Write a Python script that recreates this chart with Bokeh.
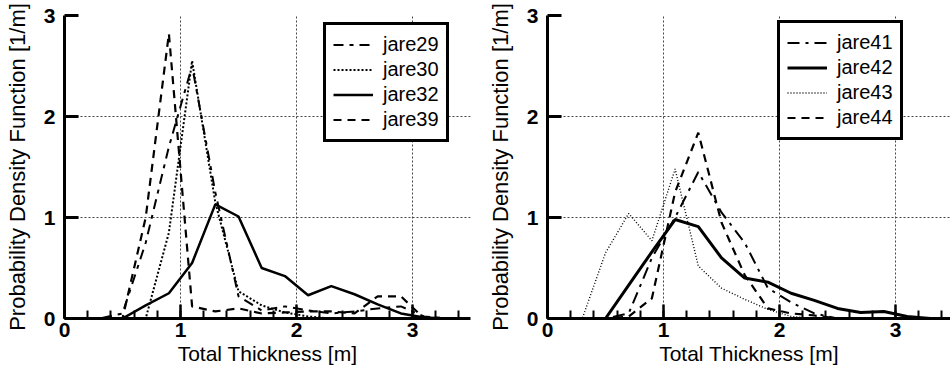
from bokeh.plotting import figure
from bokeh.layouts import row
from bokeh.models import Range1d, SingleIntervalTicker
from bokeh.embed import file_html
from bokeh.resources import INLINE

# Bin centres of thickness histogram [m]
bins = [0.1, 0.3, 0.5, 0.7, 0.9, 1.1, 1.3, 1.5, 1.7, 1.9, 2.1, 2.3, 2.5, 2.7, 2.9, 3.1, 3.3]

# Left panel
jare29 = [0, 0, 0.05, 0.75, 1.70, 2.50, 1.25, 0.22, 0.08, 0.12, 0.08, 0.05, 0.07, 0.10, 0.12, 0.02, 0]
jare30 = [0, 0, 0, 0, 0.85, 2.55, 1.15, 0.27, 0.13, 0.06, 0.02, 0, 0, 0, 0, 0, 0]
jare32 = [0, 0, 0, 0.13, 0.25, 0.55, 1.13, 1.01, 0.50, 0.42, 0.23, 0.32, 0.24, 0.14, 0.05, 0.01, 0]
jare39 = [0, 0, 0, 1.00, 2.82, 0.12, 0.07, 0.10, 0.05, 0.06, 0.07, 0.07, 0.05, 0.22, 0.22, 0, 0]

# Right panel
jare41 = [0, 0, 0, 0.05, 0.60, 1.00, 1.45, 1.05, 0.75, 0.30, 0.16, 0.05, 0, 0, 0, 0, 0]
jare42 = [0, 0, 0, 0.33, 0.66, 0.98, 0.91, 0.60, 0.40, 0.36, 0.25, 0.18, 0.10, 0.06, 0.07, 0.02, 0]
jare43 = [0, 0, 0.65, 1.04, 0.77, 1.48, 0.52, 0.30, 0.19, 0.09, 0.02, 0, 0, 0, 0, 0, 0]
jare44 = [0, 0, 0, 0.02, 0.20, 1.25, 1.84, 0.95, 0.43, 0.10, 0.05, 0.03, 0, 0, 0, 0, 0]

x_label = "Total Thickness [m]"
y_label = "Probability Density Function [1/m]"

FONT = "Liberation Sans"


def make_fig(xend, frame_w, bl, br):
    p = figure(frame_width=frame_w, frame_height=303,
               x_range=Range1d(0, xend), y_range=Range1d(0, 3),
               output_backend="svg", toolbar_location=None,
               min_border_left=bl, min_border_right=br,
               min_border_top=15, min_border_bottom=61)
    p.outline_line_color = None
    p.background_fill_color = "white"
    p.border_fill_color = "white"

    xt = SingleIntervalTicker(interval=1, num_minor_ticks=5)
    yt = SingleIntervalTicker(interval=1, num_minor_ticks=0)
    p.xaxis.ticker = xt
    p.yaxis.ticker = yt
    p.xgrid.ticker = xt
    p.ygrid.ticker = yt
    for g in (p.xgrid, p.ygrid):
        g.grid_line_color = "#444444"
        g.grid_line_dash = "2 2"
        g.grid_line_width = 1

    for ax in (p.xaxis, p.yaxis):
        ax.axis_line_width = 3
        ax.axis_line_color = "black"
        ax.major_tick_out = 0
        ax.minor_tick_out = 0
        ax.major_label_text_font = FONT
        ax.major_label_text_font_size = "21px"
        ax.major_label_text_font_style = "bold"
        ax.major_label_text_color = "black"
        ax.axis_label_text_font = FONT
        ax.axis_label_text_font_style = "normal"
        ax.axis_label_text_color = "black"

    p.xaxis.major_tick_in = 14
    p.xaxis.minor_tick_in = 8
    p.xaxis.major_tick_line_width = 2.5
    p.xaxis.minor_tick_line_width = 2
    p.xaxis.major_label_standoff = 4
    p.xaxis.axis_label_standoff = 2
    p.xaxis.axis_label_text_font_size = "21px"
    p.xaxis.axis_label = x_label

    p.yaxis.major_tick_in = 14
    p.yaxis.major_tick_line_width = 3
    p.yaxis.minor_tick_line_color = None
    p.yaxis.major_label_standoff = 9
    p.yaxis.axis_label_standoff = 11
    p.yaxis.axis_label_text_font_size = "22px"
    p.yaxis.axis_label = y_label
    return p


def style_legend(p, loc):
    lg = p.legend[0]
    lg.location = loc
    lg.label_text_font = FONT
    lg.label_text_font_size = "20px"
    lg.label_text_color = "black"
    lg.glyph_width = 40
    lg.glyph_height = 25
    lg.label_height = 25
    lg.label_standoff = 10
    lg.padding = 7
    lg.spacing = 0
    lg.margin = 0
    lg.border_line_color = "#000000"
    lg.border_line_alpha = 1.0
    lg.border_line_width = 3
    lg.background_fill_color = "white"
    lg.background_fill_alpha = 1.0


p1 = make_fig(3.5, 406, 64, 5)
p1.line(bins, jare29, line_color="black", line_width=2, line_dash="10 6 4 6", legend_label="jare29")
p1.line(bins, jare30, line_color="black", line_width=2, line_dash="2 2", legend_label="jare30")
p1.line(bins, jare32, line_color="black", line_width=2.5, legend_label="jare32")
p1.line(bins, jare39, line_color="black", line_width=2.2, line_dash="8 6", legend_label="jare39")
style_legend(p1, (259, 176))

p2 = make_fig(403 / 116, 403, 72, 0)
p2.line(bins, jare41, line_color="black", line_width=2, line_dash="12 6 3 6", legend_label="jare41")
p2.line(bins, jare42, line_color="black", line_width=3, legend_label="jare42")
p2.line(bins, jare43, line_color="black", line_width=1.4, line_dash="1 2", legend_label="jare43")
p2.line(bins, jare44, line_color="black", line_width=2.2, line_dash="8 6", legend_label="jare44")
style_legend(p2, (230, 178))

layout = row(p1, p2)
open("out.html", "w").write(file_html(layout, INLINE))
